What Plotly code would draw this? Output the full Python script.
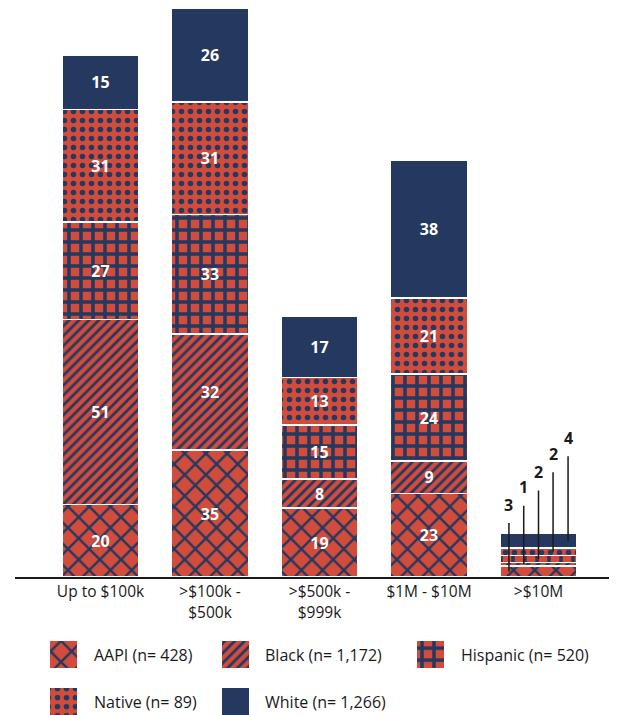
import plotly.graph_objects as go

categories = ["Up to $100k", ">$100k -<br>$500k", ">$500k -<br>$999k", "$1M - $10M", ">$10M"]
series = ["AAPI", "Black", "Hispanic", "Native", "White"]
sample_n = [428, 1172, 520, 89, 1266]
aapi = [20, 35, 19, 23, 3]
black = [51, 32, 8, 9, 1]
hispanic = [27, 33, 15, 24, 2]
native = [31, 31, 13, 21, 2]
white = [15, 26, 17, 38, 4]
values = [aapi, black, hispanic, native, white]

RED = "#D24C3C"
NAVY = "#243860"
OFF = 8                      # page body margin
W, H = 617 - OFF, 715 - OFF  # figure fills the visible window
BASE_PX = 577 - OFF
PX_PER_UNIT = 3.625

patterns = [
    dict(shape="x", size=15, solidity=0.3),
    dict(shape="/", size=7, solidity=0.4),
    dict(shape="+", size=12, solidity=0.5),
    dict(shape=".", size=9, solidity=0.3),
    None,
]

def marker_for(i):
    if patterns[i] is None:
        return dict(color=NAVY, line=dict(color="white", width=1.5))
    p = dict(patterns[i])
    p.update(fgcolor=NAVY, bgcolor=RED, fgopacity=1, fillmode="replace")
    return dict(color=RED, pattern=p, line=dict(color="white", width=1.5))

fig = go.Figure()
small_cat = categories[-1]
for i, name in enumerate(series):
    txt = [str(v) if c != small_cat else "" for c, v in zip(categories, values[i])]
    fig.add_trace(go.Bar(
        x=categories, y=values[i], name=name, text=txt,
        textposition="inside", insidetextanchor="middle", textangle=0,
        constraintext="none",
        textfont=dict(color="white", size=16, family="Open Sans", weight=700),
        marker=marker_for(i), showlegend=False, xaxis="x", yaxis="y",
    ))

# leader-line labels for the smallest category
cum = 0
x_off = [-0.27, -0.135, 0.0, 0.133, 0.27]
ay_off = [-67, -77, -87, -98, -103]
for i in range(len(series)):
    v = values[i][-1]
    mid = cum + v / 2
    cum += v
    fig.add_annotation(
        x=4 + x_off[i], y=mid, xref="x", yref="y", text=str(v),
        showarrow=True, arrowhead=0, arrowwidth=1.5, arrowcolor="#1a1a1a",
        ax=0, ay=ay_off[i], startstandoff=6,
        font=dict(size=16, color="#1a1a1a", family="Open Sans", weight=700),
    )

# custom legend in a pixel-unit subplot (page pixel coordinates)
LEG_Y0 = 0.12
leg_x = [63.5, 235.5, 430.5, 63.5, 235.5]
leg_base = [641, 641, 641, 688, 688]
txt_x = [92, 263, 459, 92, 263]
txt_y = [655, 655, 655, 702, 702]
for i, name in enumerate(series):
    fig.add_trace(go.Bar(
        x=[leg_x[i] - OFF], y=[27], base=[leg_base[i] - OFF], width=[27],
        marker=dict(marker_for(i), line=dict(width=0)),
        showlegend=False, xaxis="x2", yaxis="y2", hoverinfo="skip",
    ))
    fig.add_annotation(
        x=txt_x[i] - OFF, y=txt_y[i] - OFF, xref="x2", yref="y2",
        text=f"{name} (n= {sample_n[i]:,})", showarrow=False,
        xanchor="left", yanchor="middle",
        font=dict(size=16, color="#1a1a1a", family="Open Sans"),
    )

c0, step = 100.5 - OFF, 109.5
x_left, x_right = 15 - OFF, W
fig.update_layout(
    width=W, height=H, barmode="stack", bargap=1 - 77 / step,
    margin=dict(l=0, r=0, t=0, b=0),
    paper_bgcolor="white", plot_bgcolor="white",
    font=dict(family="Open Sans", color="#1a1a1a"),
    xaxis=dict(
        domain=[x_left / W, x_right / W], type="category",
        range=[(x_left - c0) / step, (x_right - c0) / step],
        showline=True, linecolor="#1a1a1a", linewidth=1.5,
        ticks="", showgrid=False, zeroline=False,
        tickfont=dict(size=15.5, color="#1a1a1a", family="Open Sans"),
    ),
    yaxis=dict(
        domain=[1 - BASE_PX / H, 1], range=[0, BASE_PX / PX_PER_UNIT],
        visible=False, showgrid=False, zeroline=False,
    ),
    xaxis2=dict(domain=[0, 1], range=[0, W], visible=False, anchor="y2"),
    yaxis2=dict(domain=[0, LEG_Y0], range=[H, H - LEG_Y0 * H], visible=False, anchor="x2"),
)

fig.write_html("out.html")
